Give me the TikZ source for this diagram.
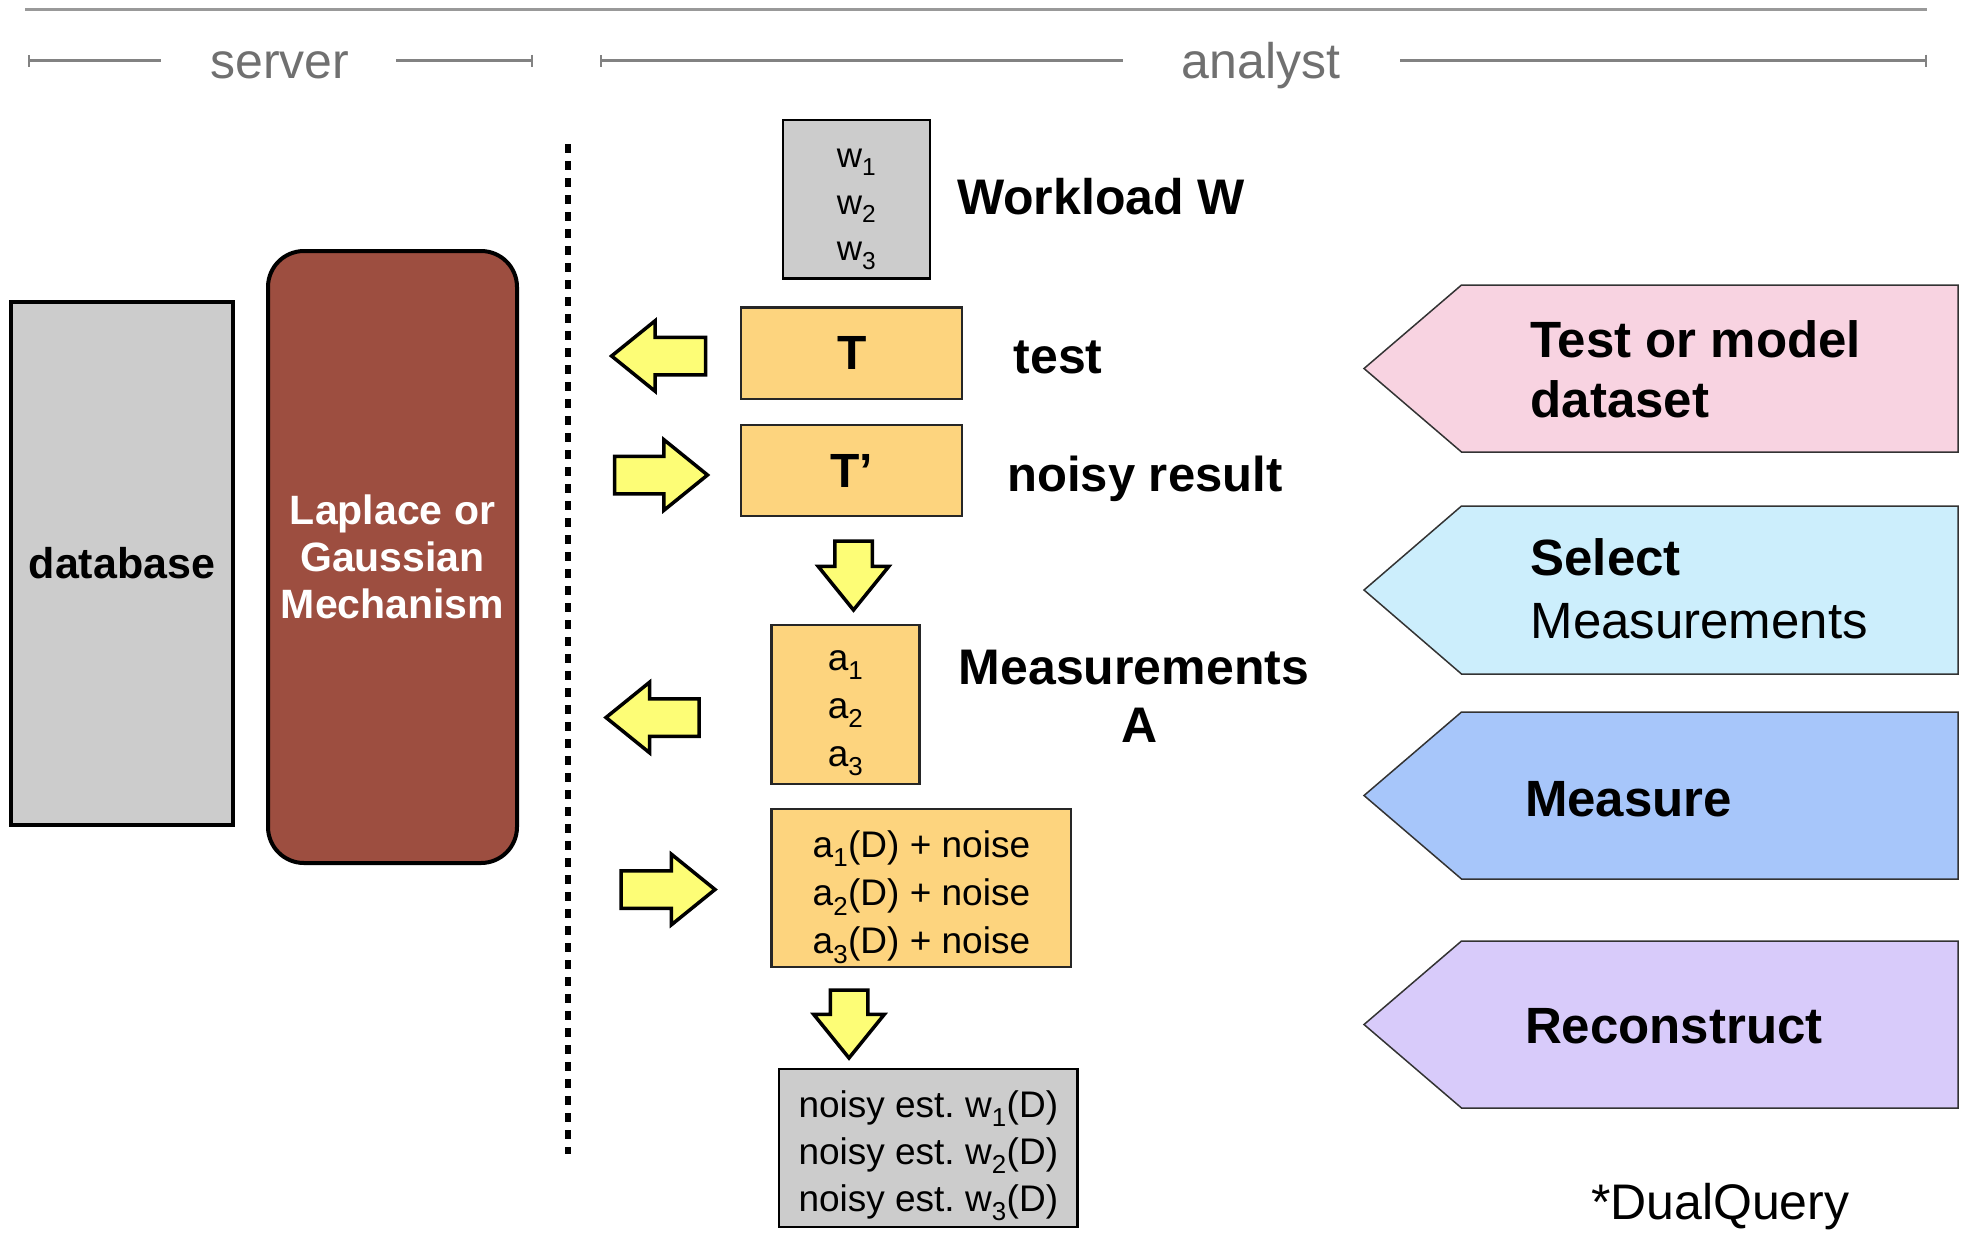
\documentclass[tikz,border=0pt]{standalone}
\usepackage{fontspec}
\setmainfont{Liberation Sans}
\usetikzlibrary{shapes.arrows,arrows.meta}
\frenchspacing

\definecolor{boxgray}{HTML}{CCCCCC}
\definecolor{mechred}{HTML}{9D4E40}
\definecolor{orangefill}{HTML}{FDD47E}
\definecolor{arrowyellow}{HTML}{FDFD76}
\definecolor{pinkstep}{HTML}{F8D3E1}
\definecolor{cyanstep}{HTML}{CCEEFC}
\definecolor{bluestep}{HTML}{A7C6FA}
\definecolor{violetstep}{HTML}{D8CBFA}
\definecolor{headgray}{HTML}{707070}
\definecolor{rulegray}{HTML}{999999}

\tikzset{
  every node/.style={inner sep=0pt, outer sep=0pt},
  graybox/.style={draw=black, fill=boxgray, line width=2.5pt},
  orbox/.style={draw=black!85, fill=orangefill, line width=2.2pt},
  yarrow/.style={single arrow, draw=black, fill=arrowyellow, line width=3.5pt,
    inner sep=17pt, single arrow head extend=16.5pt,
    single arrow tip angle=78, anchor=tip},
  pent/.style={draw=black!80, line width=1.5pt},
  hdr/.style={font=\fontsize{50}{58}\selectfont, text=headgray, anchor=base},
  hdrline/.style={draw=rulegray!85!black, line width=2.5pt},
  biglabel/.style={font=\fontsize{50}{58}\selectfont\bfseries, anchor=base west},
  steplabel/.style={font=\fontsize{51}{61}\selectfont\bfseries, anchor=base west},
  boxtext/.style={font=\fontsize{37}{48}\selectfont, align=center},
}

\begin{document}
\begin{tikzpicture}[x=1pt,y=-1pt]
\useasboundingbox (0,0) rectangle (1967,1232);

% top rule
\draw[rulegray, line width=3pt] (25,9) -- (1927,9);

% role headers
\node[hdr] (server) at (280,78) {server};
\node[hdr] (analyst) at (1261,78) {analyst};
\coordinate (s1) at (27.6,60.5);
\coordinate (s2) at (160.6,60.5);
\coordinate (s3) at (396,60.5);
\coordinate (s4) at (533,60.5);
\coordinate (a1) at (600,60.5);
\coordinate (a2) at (1123,60.5);
\coordinate (a3) at (1400,60.5);
\coordinate (a4) at (1927,60.5);
\draw[hdrline, {Bar[width=12pt,line width=2pt]}-] (s1) -- (s2);
\draw[hdrline, -{Bar[width=12pt,line width=2pt]}] (s3) -- (s4);
\draw[hdrline, {Bar[width=12pt,line width=2pt]}-] (a1) -- (a2);
\draw[hdrline, -{Bar[width=12pt,line width=2pt]}] (a3) -- (a4);

% server / analyst divider
\coordinate (divtop) at (568,144);
\coordinate (divbot) at (568,1154);
\draw[line width=5.5pt, dash pattern=on 9pt off 8pt] (divtop) -- (divbot);

% server side
\node[graybox, line width=4pt, minimum width=222pt, minimum height=523pt,
  font=\fontsize{43}{50}\selectfont\bfseries] (db) at (122,563.5) {database};
\node[draw=black, fill=mechred, line width=4pt, rounded corners=36pt,
  minimum width=249pt, minimum height=612pt, text=white, align=center,
  font=\fontsize{41}{47}\selectfont\bfseries] (mech) at (392.5,557)
  {Laplace or\\Gaussian\\Mechanism};

% workload
\node[graybox, minimum width=147pt, minimum height=158.5pt] (W) at (856.5,199.3) {};
\node[font=\fontsize{35}{46.5}\selectfont, align=center] (Wtxt) at ([yshift=-10pt]W.center)
  {w\textsubscript{1}\\w\textsubscript{2}\\w\textsubscript{3}};
\node[biglabel] (Wlab) at (957,214.5) {Workload W};

% test T and noisy result T'
\node[orbox, minimum width=221pt, minimum height=91.6pt,
  font=\fontsize{48}{56}\selectfont\bfseries] (T) at (851.8,353.2) {T};
\node[biglabel] (Tlab) at (1013.6,373.5) {test};
\node[yarrow, minimum height=94pt, shape border rotate=180] (Tout) at (611.6,356) {};

\node[orbox, minimum width=221pt, minimum height=90.3pt,
  font=\fontsize{48}{56}\selectfont\bfseries] (Tp) at (851.8,470.5) {T’};
\node[biglabel, font=\fontsize{49}{58}\selectfont\bfseries] (Tplab) at (1007.4,491) {noisy result};
\node[yarrow, minimum height=93pt] (Tpin) at (707.5,475) {};

\node[yarrow, minimum height=69pt, shape border rotate=270] (down1) at (853.5,610) {};

% measurements A
\node[orbox, minimum width=148pt, minimum height=159.3pt] (A) at (845.5,704.4) {};
\node[boxtext] (Atxt) at ([yshift=-9pt]A.center)
  {a\textsubscript{1}\\a\textsubscript{2}\\a\textsubscript{3}};
\node[biglabel, anchor=base] (Alab1) at (1134,684) {Measurements};
\node[biglabel, anchor=base] (Alab2) at (1140,742) {A};
\node[yarrow, minimum height=93pt, shape border rotate=180] (Aout) at (606,717.5) {};

\node[orbox, minimum width=299.8pt, minimum height=158pt] (AD) at (921.4,888) {};
\node[boxtext] (ADtxt) at ([yshift=-9pt]AD.center)
  {a\textsubscript{1}(D) + noise\\a\textsubscript{2}(D) + noise\\a\textsubscript{3}(D) + noise};
\node[yarrow, minimum height=94pt] (ADin) at (715,889.5) {};

\node[yarrow, minimum height=68pt, shape border rotate=270] (down2) at (849,1058) {};

% reconstructed estimates
\node[graybox, minimum width=298.6pt, minimum height=158pt] (est) at (928.3,1147.9) {};
\node[font=\fontsize{37}{47}\selectfont, align=left] (esttxt) at ([yshift=-8pt]est.center)
  {noisy est. w\textsubscript{1}(D)\\noisy est. w\textsubscript{2}(D)\\noisy est. w\textsubscript{3}(D)};

% step tags
\draw[pent, fill=pinkstep]   (1958,285) -- (1461.5,285) -- (1364,368.5) -- (1461.5,452) -- (1958,452) -- cycle;
\draw[pent, fill=cyanstep]   (1958,506) -- (1461.5,506) -- (1364,590) -- (1461.5,674) -- (1958,674) -- cycle;
\draw[pent, fill=bluestep]   (1958,712) -- (1461.5,712) -- (1364,795.5) -- (1461.5,879) -- (1958,879) -- cycle;
\draw[pent, fill=violetstep] (1958,941) -- (1461.5,941) -- (1364,1024.5) -- (1461.5,1108) -- (1958,1108) -- cycle;

\node[steplabel] (st1a) at (1530.5,357.5) {Test or model};
\node[steplabel] (st1b) at (1530.5,417.8) {dataset};
\node[steplabel] (st2a) at (1530.5,575.8) {Select};
\node[steplabel, font=\fontsize{51}{61}\selectfont] (st2b) at (1530.5,638.5) {Measurements};
\node[steplabel] (st3) at (1525,816.7) {Measure};
\node[steplabel] (st4) at (1525,1043.7) {Reconstruct};

\node[font=\fontsize{50}{58}\selectfont, anchor=base west] (dq) at (1591,1219) {*DualQuery};
\end{tikzpicture}
\end{document}
